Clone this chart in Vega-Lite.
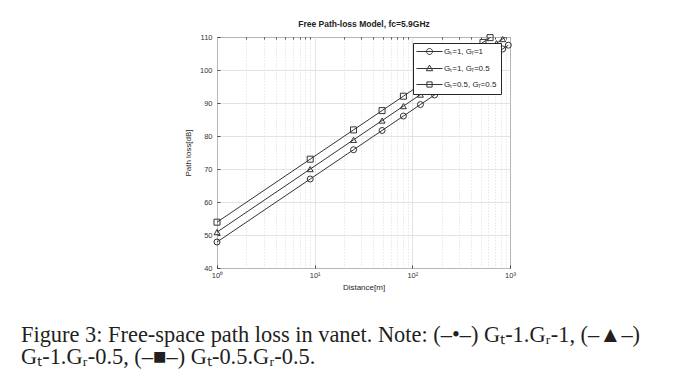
{
  "$schema": "https://vega.github.io/schema/vega-lite/v6.json",
  "width": 293,
  "height": 231,
  "autosize": {"type": "none"},
  "padding": {"left": 217, "top": 37, "right": 168, "bottom": 119},
  "background": "white",
  "config": {
    "view": {"stroke": "#262626", "strokeWidth": 1},
    "axis": {"labelFont": "Liberation Sans", "titleFont": "Liberation Sans", "labelColor": "#333", "titleColor": "#262626", "labelFontSize": 7.5, "titleFontSize": 8, "titleFontWeight": "normal", "tickColor": "#262626", "tickWidth": 0.8}
  },
  "title": {
    "text": ["Figure 3: Free-space path loss in vanet. Note: (–•–) G\u209c-1.G\u1d63-1, (–▲–)", "G\u209c-1.G\u1d63-0.5, (–■–) G\u209c-0.5.G\u1d63-0.5."],
    "orient": "bottom",
    "anchor": "start",
    "frame": "group",
    "dx": -196,
    "offset": 32,
    "font": "Liberation Serif",
    "fontSize": 22.4,
    "fontWeight": "normal",
    "lineHeight": 22,
    "color": "#231f20"
  },
  "data": {
    "values": [
      {"series": "G\u209c=1, G\u1d63=1", "d": 1, "pl": 47.87},
      {"series": "G\u209c=1, G\u1d63=1", "d": 9, "pl": 66.96},
      {"series": "G\u209c=1, G\u1d63=1", "d": 25, "pl": 75.83},
      {"series": "G\u209c=1, G\u1d63=1", "d": 49, "pl": 81.67},
      {"series": "G\u209c=1, G\u1d63=1", "d": 81, "pl": 86.04},
      {"series": "G\u209c=1, G\u1d63=1", "d": 121, "pl": 89.53},
      {"series": "G\u209c=1, G\u1d63=1", "d": 169, "pl": 92.43},
      {"series": "G\u209c=1, G\u1d63=1", "d": 225, "pl": 94.91},
      {"series": "G\u209c=1, G\u1d63=1", "d": 289, "pl": 97.09},
      {"series": "G\u209c=1, G\u1d63=1", "d": 361, "pl": 99.02},
      {"series": "G\u209c=1, G\u1d63=1", "d": 441, "pl": 100.76},
      {"series": "G\u209c=1, G\u1d63=1", "d": 529, "pl": 102.34},
      {"series": "G\u209c=1, G\u1d63=1", "d": 625, "pl": 103.79},
      {"series": "G\u209c=1, G\u1d63=1", "d": 729, "pl": 105.12},
      {"series": "G\u209c=1, G\u1d63=1", "d": 841, "pl": 106.37},
      {"series": "G\u209c=1, G\u1d63=1", "d": 961, "pl": 107.52},
      {"series": "G\u209c=1, G\u1d63=0.5", "d": 1, "pl": 50.88},
      {"series": "G\u209c=1, G\u1d63=0.5", "d": 9, "pl": 69.97},
      {"series": "G\u209c=1, G\u1d63=0.5", "d": 25, "pl": 78.84},
      {"series": "G\u209c=1, G\u1d63=0.5", "d": 49, "pl": 84.68},
      {"series": "G\u209c=1, G\u1d63=0.5", "d": 81, "pl": 89.05},
      {"series": "G\u209c=1, G\u1d63=0.5", "d": 121, "pl": 92.54},
      {"series": "G\u209c=1, G\u1d63=0.5", "d": 169, "pl": 95.44},
      {"series": "G\u209c=1, G\u1d63=0.5", "d": 225, "pl": 97.92},
      {"series": "G\u209c=1, G\u1d63=0.5", "d": 289, "pl": 100.10},
      {"series": "G\u209c=1, G\u1d63=0.5", "d": 361, "pl": 102.03},
      {"series": "G\u209c=1, G\u1d63=0.5", "d": 441, "pl": 103.77},
      {"series": "G\u209c=1, G\u1d63=0.5", "d": 529, "pl": 105.35},
      {"series": "G\u209c=1, G\u1d63=0.5", "d": 625, "pl": 106.80},
      {"series": "G\u209c=1, G\u1d63=0.5", "d": 729, "pl": 108.13},
      {"series": "G\u209c=1, G\u1d63=0.5", "d": 841, "pl": 109.38},
      {"series": "G\u209c=1, G\u1d63=0.5", "d": 961, "pl": 110.53},
      {"series": "G\u209c=0.5, G\u1d63=0.5", "d": 1, "pl": 53.89},
      {"series": "G\u209c=0.5, G\u1d63=0.5", "d": 9, "pl": 72.98},
      {"series": "G\u209c=0.5, G\u1d63=0.5", "d": 25, "pl": 81.85},
      {"series": "G\u209c=0.5, G\u1d63=0.5", "d": 49, "pl": 87.69},
      {"series": "G\u209c=0.5, G\u1d63=0.5", "d": 81, "pl": 92.06},
      {"series": "G\u209c=0.5, G\u1d63=0.5", "d": 121, "pl": 95.55},
      {"series": "G\u209c=0.5, G\u1d63=0.5", "d": 169, "pl": 98.45},
      {"series": "G\u209c=0.5, G\u1d63=0.5", "d": 225, "pl": 100.93},
      {"series": "G\u209c=0.5, G\u1d63=0.5", "d": 289, "pl": 103.11},
      {"series": "G\u209c=0.5, G\u1d63=0.5", "d": 361, "pl": 105.04},
      {"series": "G\u209c=0.5, G\u1d63=0.5", "d": 441, "pl": 106.78},
      {"series": "G\u209c=0.5, G\u1d63=0.5", "d": 529, "pl": 108.36},
      {"series": "G\u209c=0.5, G\u1d63=0.5", "d": 625, "pl": 109.81},
      {"series": "G\u209c=0.5, G\u1d63=0.5", "d": 729, "pl": 111.14},
      {"series": "G\u209c=0.5, G\u1d63=0.5", "d": 841, "pl": 112.39},
      {"series": "G\u209c=0.5, G\u1d63=0.5", "d": 961, "pl": 113.54}
    ]
  },
  "resolve": {"axis": {"x": "independent"}, "scale": {"shape": "independent"}, "legend": {"shape": "independent"}},
  "layer": [
    {
      "mark": {"type": "line", "stroke": "#333", "strokeWidth": 1, "clip": true},
      "encoding": {
        "x": {"field": "d", "type": "quantitative",
              "scale": {"type": "log", "domain": [1, 1000], "nice": false},
              "axis": {"orient": "bottom", "values": [1, 10, 100, 1000], "title": "Distance[m]", "labelExpr": "datum.value == 1 ? '10\u2070' : datum.value == 10 ? '10\u00b9' : datum.value == 100 ? '10\u00b2' : '10\u00b3'", "grid": true, "gridColor": "#dcdcdc", "gridWidth": 0.8, "ticks": true, "tickSize": -3, "domain": false, "labelPadding": 6, "titlePadding": 5, "labelFlush": false}},
        "y": {"field": "pl", "type": "quantitative",
              "scale": {"domain": [40, 110], "nice": false, "zero": false},
              "axis": {"values": [40, 50, 60, 70, 80, 90, 100, 110], "title": "Path loss[dB]", "grid": true, "gridColor": "#dcdcdc", "gridWidth": 0.8, "ticks": true, "tickSize": -3, "domain": false, "labelPadding": 8, "titlePadding": 7}},
        "detail": {"field": "series", "type": "nominal"}
      }
    },
    {
      "transform": [{"filter": "datum.pl <= 110"}],
      "mark": {"type": "point", "filled": false, "stroke": "#333", "strokeWidth": 1, "size": 36, "opacity": 1},
      "encoding": {
        "x": {"field": "d", "type": "quantitative",
              "scale": {"type": "log", "domain": [1, 1000], "nice": false},
              "axis": {"orient": "top", "values": [2, 3, 4, 5, 6, 7, 8, 9, 20, 30, 40, 50, 60, 70, 80, 90, 200, 300, 400, 500, 600, 700, 800, 900], "labels": false, "ticks": true, "tickSize": -2, "domain": false, "grid": true, "gridColor": "#d0d0d0", "gridDash": [1, 2], "gridWidth": 0.8, "title": "Free Path-loss Model, fc=5.9GHz", "titleFontWeight": "bold", "titleFontSize": 8.5, "titleColor": "#222", "titlePadding": 8}},
        "y": {"field": "pl", "type": "quantitative",
              "scale": {"domain": [40, 110], "nice": false, "zero": false},
              "axis": {"values": [40, 50, 60, 70, 80, 90, 100, 110], "title": "Path loss[dB]", "grid": true, "gridColor": "#dcdcdc", "gridWidth": 0.8, "ticks": true, "tickSize": -3, "domain": false, "labelPadding": 8, "titlePadding": 7}},
        "shape": {"field": "series", "type": "nominal",
                  "scale": {"domain": ["G\u209c=1, G\u1d63=1", "G\u209c=1, G\u1d63=0.5", "G\u209c=0.5, G\u1d63=0.5"], "range": ["circle", "triangle-up", "square"]},
                  "legend": null}
      }
    },
    {
      "transform": [{"filter": "datum.pl < 0"}],
      "mark": {"type": "point", "filled": false, "stroke": "#333", "strokeWidth": 1, "size": 64, "opacity": 1},
      "encoding": {
        "shape": {"field": "series", "type": "nominal",
                  "scale": {"domain": ["G\u209c=1, G\u1d63=1", "G\u209c=1, G\u1d63=0.5", "G\u209c=0.5, G\u1d63=0.5"],
                            "range": ["M-3.25,0H3.25M0.75,0A0.75,0.75,0,1,1,-0.75,0A0.75,0.75,0,1,1,0.75,0", "M-3.25,0H3.25M0,-0.85L0.8,0.55L-0.8,0.55Z", "M-3.25,0H3.25M-0.65,-0.65H0.65V0.65H-0.65Z"]},
                  "legend": {"orient": "none", "legendX": 196, "legendY": 6, "title": null, "fillColor": "white", "strokeColor": "#262626", "padding": 4, "symbolSize": 64, "symbolOffset": 8, "labelOffset": 10, "rowPadding": 6, "symbolStrokeWidth": 1, "symbolStrokeColor": "#333", "symbolFillColor": "transparent", "labelFont": "Liberation Sans", "labelFontSize": 8, "labelColor": "#222"}}
      }
    }
  ]
}
